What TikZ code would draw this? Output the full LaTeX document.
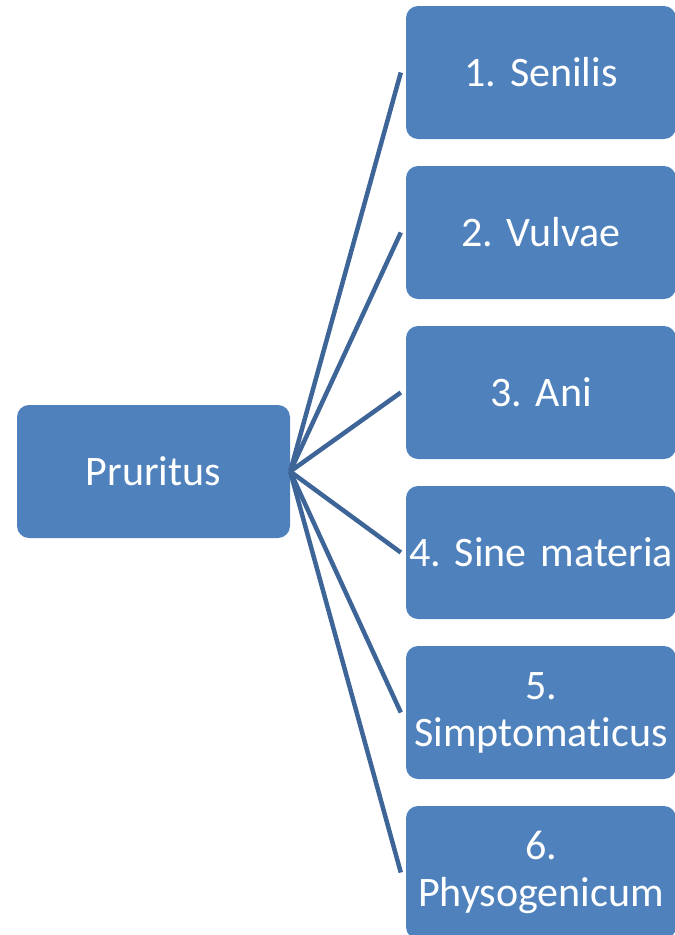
\documentclass[tikz,border=0pt]{standalone}
\usepackage{fontspec}
\setmainfont[RawFeature=-liga,WordSpace={0.75,0,0}]{Carlito}
\definecolor{boxblue}{HTML}{4F81BD}
\definecolor{lineblue}{HTML}{3E6598}
\frenchspacing
\begin{document}
\begin{tikzpicture}[x=1pt,y=-1pt,
  boxstyle/.style={rectangle, rounded corners=12pt, fill=boxblue, text=white,
    font=\fontsize{42}{47}\selectfont\frenchspacing, align=center, inner sep=0pt},
  leftbox/.style={boxstyle, minimum width=273pt, minimum height=133pt, text width=270pt},
  rightbox/.style={boxstyle, minimum width=270pt, minimum height=133pt, text width=268pt},
  conn/.style={draw=lineblue, line width=4.5pt}]
\useasboundingbox (0,0) rectangle (675,935);
\node[leftbox] (p) at (153.5,471.5) {Pruritus};
\node[rightbox] (b1) at (541,72.5) {1. Senilis};
\node[rightbox] (b2) at (541,232.5) {2. Vulvae};
\node[rightbox] (b3) at (541,392.5) {3. Ani};
\node[rightbox] (b4) at (541,552.5) {\mbox{4. Sine materia}};
\node[rightbox] (b5) at (541,712.5) {5.\\Simptomaticus};
\node[rightbox] (b6) at (541,872.5) {6.\\Physogenicum};
\foreach \i in {1,...,6}{
  \coordinate (e\i) at ([xshift=-5pt]b\i.west);
  \draw[conn] (p.east) -- (e\i);
}
\end{tikzpicture}
\end{document}
